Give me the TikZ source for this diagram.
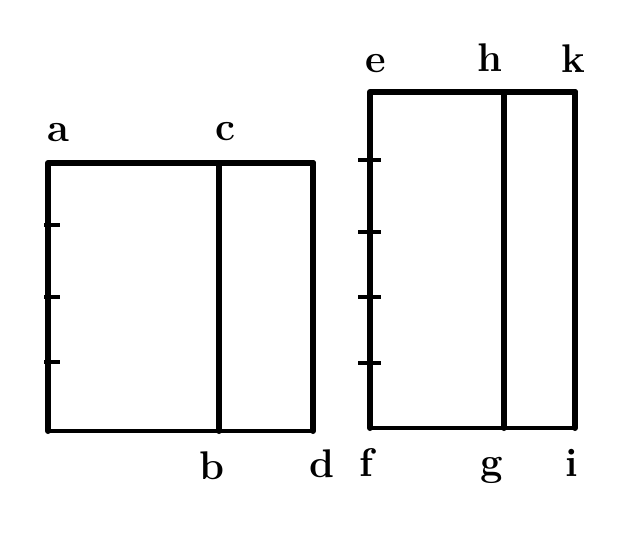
\documentclass[tikz,border=0pt]{standalone}
\begin{document}
\begin{tikzpicture}[x=1pt,y=-1pt,
  edge/.style={line width=6pt,line cap=round,line join=round},
  thin edge/.style={line width=4pt,line cap=round},
  tick/.style={line width=3.5pt},
  lbl/.style={font=\fontsize{40}{40}\selectfont\bfseries,inner sep=0pt}]
\useasboundingbox (0,0) rectangle (640,549);
% left figure
\coordinate (A) at (48,163);
\coordinate (C) at (219,163);
\coordinate (Dt) at (313,163);
\coordinate (Ab) at (48,431);
\coordinate (B) at (219,431);
\coordinate (D) at (313,431);
\draw[edge] (Ab) -- (A) -- (Dt);
\draw[edge] (C) -- (B);
\draw[edge] (Dt) -- (D);
\draw[thin edge] (Ab) -- (D);
\foreach \y/\n in {225/t1,297/t2,362/t3}{
  \coordinate (L\n) at (44,\y); \coordinate (R\n) at (60,\y);
  \draw[tick] (L\n) -- (R\n);}
\node[lbl] (a) at (58,133) {a};
\node[lbl] (c) at (225,132) {c};
\node[lbl] (b) at (212,466) {b};
\node[lbl] (d) at (322,464) {d};
% right figure
\coordinate (E) at (370,92);
\coordinate (H) at (504,92);
\coordinate (K) at (575,92);
\coordinate (F) at (370,428);
\coordinate (G) at (504,428);
\coordinate (I) at (575,428);
\draw[edge] (F) -- (E) -- (K);
\draw[edge] (H) -- (G);
\draw[edge] (K) -- (I);
\draw[thin edge] (F) -- (I);
\foreach \y/\n in {160/u1,232/u2,297/u3,363/u4}{
  \coordinate (L\n) at (358,\y); \coordinate (R\n) at (381,\y);
  \draw[tick] (L\n) -- (R\n);}
\node[lbl] (e) at (376,64) {e};
\node[lbl] (h) at (490,58) {h};
\node[lbl] (k) at (573,59) {k};
\node[lbl] (f) at (366,462) {f};
\node[lbl] (g) at (492,470) {g};
\node[lbl] (i) at (572,463) {i};
\end{tikzpicture}
\end{document}
